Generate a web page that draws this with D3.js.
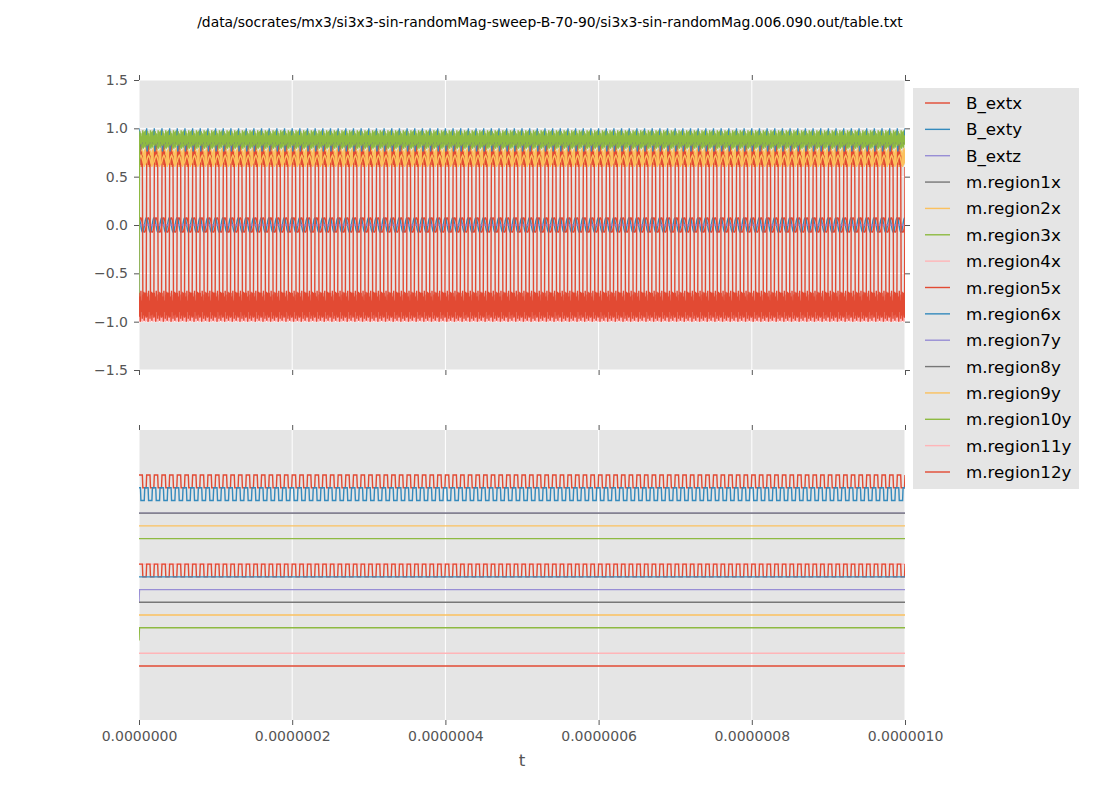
<!DOCTYPE html>
<html>
<head>
<meta charset="utf-8">
<script src="https://cdn.jsdelivr.net/npm/d3@7"></script>
<style>
body { margin: 0; background: #fff; }
text { font-family: "DejaVu Sans", sans-serif; }
</style>
</head>
<body>
<svg id="chart" width="1100" height="800"></svg>
<script>
const width = 1100;
const height = 800;

const title = "/data/socrates/mx3/si3x3-sin-randomMag-sweep-B-70-90/si3x3-sin-randomMag.006.090.out/table.txt";

const seriesNames = ["B_extx", "B_exty", "B_extz", "m.region1x", "m.region2x", "m.region3x",
  "m.region4x", "m.region5x", "m.region6x", "m.region7y", "m.region8y", "m.region9y",
  "m.region10y", "m.region11y", "m.region12y"];
const palette = ["#E24A33", "#348ABD", "#988ED5", "#777777", "#FBC15E", "#8EBA42", "#FFB5B8"];

const tEnd = 1e-6;
const cycles = 100;
const tTicks = [0, 2e-7, 4e-7, 6e-7, 8e-7, 1e-6];
const tTickLabels = ["0.0000000", "0.0000002", "0.0000004", "0.0000006", "0.0000008", "0.0000010"];
const yTicks = [1.5, 1.0, 0.5, 0.0, -0.5, -1.0, -1.5];
const yTickLabels = ["1.5", "1.0", "0.5", "0.0", "\u22120.5", "\u22121.0", "\u22121.5"];

// one period of every column (16 rows per period)
const bExtx = [0.015, 0.042, 0.062, 0.074, 0.074, 0.062, 0.042, 0.015, -0.015, -0.042, -0.062, -0.074, -0.074, -0.062, -0.042, -0.015];
const bExty = [0.074, 0.062, 0.042, 0.015, -0.015, -0.042, -0.062, -0.074, -0.074, -0.062, -0.042, -0.015, 0.015, 0.042, 0.062, 0.074];
const bExtz = [0, 0, 0, 0, 0, 0, 0, 0, 0, 0, 0, 0, 0, 0, 0, 0];
const m1x   = [0.90, 0.86, 0.88, 0.83, 0.86, 0.82, 0.85, 0.84, 0.87, 0.83, 0.88, 0.85, 0.90, 0.86, 0.91, 0.88];
const m2x   = [0.78, 0.62, 0.76, 0.60, 0.74, 0.63, 0.79, 0.61, 0.77, 0.64, 0.75, 0.60, 0.78, 0.62, 0.80, 0.65];
const m3x   = [0.98, 0.82, 0.95, 0.79, 0.92, 0.78, 0.90, 0.80, 0.94, 0.79, 0.96, 0.81, 0.97, 0.80, 0.98, 0.84];
const m4x   = [-0.95, -0.99, -0.93, -1.00, -0.96, -0.98, -0.94, -1.00, -0.95, -0.99, -0.92, -0.98, -0.96, -1.00, -0.94, -0.97];
const m5x   = [0.60, 0.88, 0.66, 0.82, 0.62, 0.76, 0.60, 0.72, -0.70, -0.98, -0.75, -0.92, -0.70, -0.96, -0.78, -0.88];
const m6x   = [1.00, 0.76, 0.90, 0.85, 0.88, 0.84, 0.87, 0.86, 0.88, 0.85, 0.87, 0.86, 0.89, 0.85, 0.90, 0.88];
const m7y   = [0.88, 0.84, 0.86, 0.82, 0.85, 0.83, 0.87, 0.84, 0.89, 0.85, 0.90, 0.86, 0.91, 0.87, 0.90, 0.88];
const m8y   = [0.85, 0.82, 0.84, 0.81, 0.86, 0.83, 0.88, 0.84, 0.89, 0.86, 0.90, 0.85, 0.88, 0.84, 0.87, 0.85];
const m9y   = [0.66, 0.68, 0.70, 0.71, 0.72, 0.71, 0.70, 0.68, 0.66, 0.64, 0.63, 0.62, 0.62, 0.63, 0.64, 0.65];
const m10y  = [0.93, 0.82, 0.97, 0.84, 0.95, 0.83, 0.91, 0.86, 0.98, 0.84, 0.94, 0.82, 0.96, 0.86, 0.92, 0.83];
const m11y  = [-0.97, -0.93, -1.00, -0.95, -0.98, -0.92, -0.99, -0.96, -1.00, -0.94, -0.97, -0.93, -0.99, -0.95, -1.00, -0.96];
const m12y  = [-0.70, -0.95, -0.74, -1.00, -0.68, -0.90, -0.78, -0.97, -0.72, -0.93, -0.69, -0.99, -0.76, -0.88, -0.70, -0.96];
const shapes = [bExtx, bExty, bExtz, m1x, m2x, m3x, m4x, m5x, m6x, m7y, m8y, m9y, m10y, m11y, m12y];

// the first row of the table differs for two columns (they start negative)
const firstRow = [null, null, null, null, null, null, null, null, null, -0.85, null, null, -0.80, null, null];

const svg = d3.select("#chart");

const x = d3.scaleLinear().domain([0, tEnd]).range([139, 905]);
const yTop = d3.scaleLinear().domain([-1.5, 1.5]).range([370, 80]);
const yBot = d3.scaleLinear().domain([-18.24, 4.53]).range([720, 430]);

const series = seriesNames.map((name, k) => {
  const shape = shapes[k];
  const n = cycles * shape.length;
  const pts = d3.range(n + 1).map(i => {
    let v = shape[i % shape.length];
    if (i === 0 && firstRow[k] !== null) v = firstRow[k];
    return { t: tEnd * i / n, v: v };
  });
  return { name, k, color: palette[k % palette.length], pts };
});

svg.append("text")
  .attr("x", 550).attr("y", 27)
  .attr("text-anchor", "middle")
  .attr("font-size", 13.9)
  .text(title);

const defs = svg.append("defs");
function panel(id, y0, y1) {
  svg.append("rect").attr("x", 139).attr("y", y0).attr("width", 766).attr("height", y1 - y0).attr("fill", "#E5E5E5");
  defs.append("clipPath").attr("id", id).append("rect")
    .attr("x", 139).attr("y", y0).attr("width", 766).attr("height", y1 - y0);
}
panel("clipTop", 80, 370);
panel("clipBot", 430, 720);

// grid
const grid = svg.append("g").attr("stroke", "#fff").attr("stroke-width", 1);
grid.selectAll(".gv1").data(tTicks).join("line")
  .attr("class", "gv1")
  .attr("x1", d => x(d)).attr("x2", d => x(d)).attr("y1", 80).attr("y2", 370);
grid.selectAll(".gh1").data(yTicks).join("line")
  .attr("class", "gh1")
  .attr("x1", 139).attr("x2", 905).attr("y1", d => yTop(d)).attr("y2", d => yTop(d));
grid.selectAll(".gv2").data(tTicks).join("line")
  .attr("class", "gv2")
  .attr("x1", d => x(d)).attr("x2", d => x(d)).attr("y1", 430).attr("y2", 720);

const lineTop = d3.line().x(d => x(d.t)).y(d => yTop(d.v));
const lineBot = d3.line().x(d => x(d.t)).y(d => yBot(d.b));

svg.append("g").attr("clip-path", "url(#clipTop)")
  .selectAll("path").data(series).join("path")
  .attr("fill", "none").attr("stroke", d => d.color).attr("stroke-width", 1.4)
  .attr("d", d => lineTop(d.pts));

// bottom panel: sign of each column, stacked one unit apart
svg.append("g").attr("clip-path", "url(#clipBot)")
  .selectAll("path").data(series).join("path")
  .attr("fill", "none").attr("stroke", d => d.color).attr("stroke-width", 1.4)
  .attr("d", d => lineBot(d.pts.map(p => ({ t: p.t, b: (p.v > 0 ? 1 : 0) - d.k }))));

// axes
function styleAxis(g) {
  g.select(".domain").remove();
  g.selectAll(".tick line").attr("stroke", "#555555");
  g.selectAll(".tick text").attr("fill", "#555555").attr("font-size", 14)
    .attr("font-family", "DejaVu Sans, sans-serif");
}
const xFmt = (d, i) => tTickLabels[i];
const yFmt = (d, i) => yTickLabels[i];

svg.append("g").attr("transform", "translate(0,80)")
  .call(d3.axisTop(x).tickValues(tTicks).tickSize(5).tickFormat("")).call(styleAxis);
svg.append("g").attr("transform", "translate(0,370)")
  .call(d3.axisBottom(x).tickValues(tTicks).tickSize(5).tickFormat("")).call(styleAxis);
svg.append("g").attr("transform", "translate(139,0)")
  .call(d3.axisLeft(yTop).tickValues(yTicks).tickSize(5).tickPadding(6).tickFormat(yFmt)).call(styleAxis);
svg.append("g").attr("transform", "translate(905,0)")
  .call(d3.axisRight(yTop).tickValues(yTicks).tickSize(5).tickFormat("")).call(styleAxis);
svg.append("g").attr("transform", "translate(0,430)")
  .call(d3.axisTop(x).tickValues(tTicks).tickSize(5).tickFormat("")).call(styleAxis);
svg.append("g").attr("transform", "translate(0,720)")
  .call(d3.axisBottom(x).tickValues(tTicks).tickSize(5).tickPadding(6).tickFormat(xFmt)).call(styleAxis);

svg.append("text")
  .attr("x", 522).attr("y", 766)
  .attr("text-anchor", "middle")
  .attr("font-size", 16.7)
  .attr("fill", "#555555")
  .text("t");

// legend
const legend = svg.append("g");
legend.append("rect").attr("x", 913).attr("y", 88).attr("width", 166).attr("height", 401).attr("fill", "#E5E5E5");
const rowY = d3.scalePoint().domain(seriesNames).range([103, 472]);
const rows = legend.selectAll(".row").data(series).join("g")
  .attr("transform", d => `translate(0,${rowY(d.name)})`);
rows.append("line").attr("x1", 925).attr("x2", 950).attr("stroke", d => d.color).attr("stroke-width", 1.4);
rows.append("text").attr("x", 966).attr("y", 6).attr("font-size", 16.7).attr("fill", "#000")
  .text(d => d.name);
</script>
</body>
</html>
